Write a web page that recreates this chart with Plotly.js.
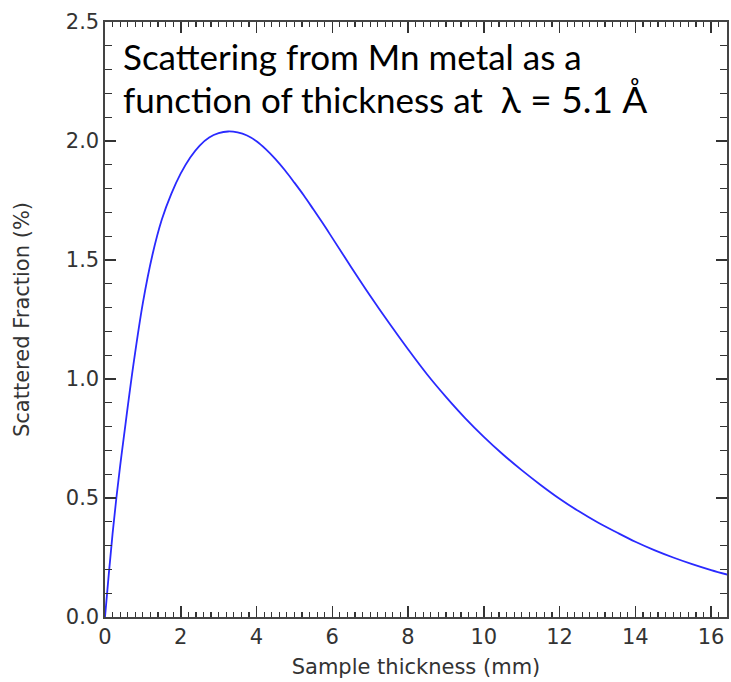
<!DOCTYPE html>
<html><head><meta charset="utf-8">
<script src="https://cdn.plot.ly/plotly-3.0.1.min.js"></script>
<style>html,body{margin:0;padding:0;background:#fff}#chart{width:731px;height:682px}</style>
</head><body><div id="chart"></div>
<script>
const thickness = [0, 0.1, 0.2, 0.3, 0.4, 0.5, 0.75, 1.0, 1.25, 1.5, 1.75, 2.0, 2.25, 2.5, 2.75, 3.0, 3.25, 3.5, 3.75, 4.0, 4.25, 4.5, 4.75, 5.0, 5.25, 5.5, 5.75, 6.0, 6.5, 7.0, 7.5, 8.0, 8.5, 9.0, 9.5, 10, 10.5, 11, 11.5, 12, 12.5, 13, 13.5, 14, 14.5, 15, 15.5, 16, 16.5];
const scattered = [0, 0.18, 0.35, 0.50, 0.635, 0.76, 1.06, 1.32, 1.52, 1.67, 1.778, 1.864, 1.931, 1.981, 2.015, 2.033, 2.04, 2.036, 2.023, 1.999, 1.965, 1.924, 1.877, 1.825, 1.771, 1.713, 1.654, 1.593, 1.47, 1.35, 1.235, 1.125, 1.02, 0.925, 0.837, 0.757, 0.684, 0.617, 0.555, 0.497, 0.445, 0.398, 0.356, 0.316, 0.281, 0.25, 0.222, 0.197, 0.175];
const titleLine1 = "Scattering from Mn metal as a";
const titleLine2 = "function of thickness at&nbsp;&nbsp;<span style='font-size:37px'>λ = 5.1 Å</span>";
const xTitle = "Sample thickness (mm)";
const yTitle = "Scattered Fraction (%)";

const labelFont = {family: "DejaVu Sans, sans-serif", size: 21, color: "#333"};
const axisCommon = {
  showgrid: false, zeroline: false, showline: true, linecolor: "#444", linewidth: 1.6,
  mirror: "ticks", ticks: "inside", tickcolor: "#333", tickwidth: 1.5, ticklen: 11,
  tickfont: labelFont
};
const data = [{
  x: thickness, y: scattered, type: "scatter", mode: "lines",
  line: {color: "#2a2aff", width: 1.8, shape: "spline", smoothing: 1},
  hoverinfo: "skip"
}];
const layout = {
  width: 731, height: 682,
  margin: {l: 105, r: 4, t: 22, b: 65},
  paper_bgcolor: "#fff", plot_bgcolor: "#fff",
  showlegend: false,
  xaxis: Object.assign({}, axisCommon, {
    range: [0, 16.42], tick0: 0, dtick: 2,
    minor: {dtick: 0.2, ticks: "inside", ticklen: 5, tickcolor: "#333", tickwidth: 1.2, showgrid: false},
    title: {text: xTitle, font: labelFont, standoff: 11}
  }),
  xaxis2: {
    overlaying: "x", matches: "x", anchor: "y", range: [0, 16.42], tick0: 0, dtick: 1,
    ticks: "inside", ticklen: 8, tickcolor: "#333", tickwidth: 1.3, mirror: "ticks",
    showticklabels: false, showline: false, showgrid: false, zeroline: false
  },
  yaxis: Object.assign({}, axisCommon, {
    range: [0, 2.5], tick0: 0, dtick: 0.5, tickformat: ".1f",
    minor: {dtick: 0.1, ticks: "inside", ticklen: 7, tickcolor: "#333", tickwidth: 1.2, showgrid: false},
    title: {text: yTitle, font: labelFont, standoff: 30}
  }),
  annotations: [
    {xref: "paper", yref: "paper", x: 0.026, y: 0.943, xanchor: "left", yanchor: "middle", align: "left",
     showarrow: false, text: titleLine1, font: {family: "Lato, sans-serif", size: 35, color: "#000"}},
    {xref: "paper", yref: "paper", x: 0.026, y: 0.872, xanchor: "left", yanchor: "middle", align: "left",
     showarrow: false, text: titleLine2, font: {family: "Lato, sans-serif", size: 35, color: "#000"}}
  ]
};
Plotly.newPlot("chart", data, layout, {staticPlot: true, displayModeBar: false});
</script></body></html>
